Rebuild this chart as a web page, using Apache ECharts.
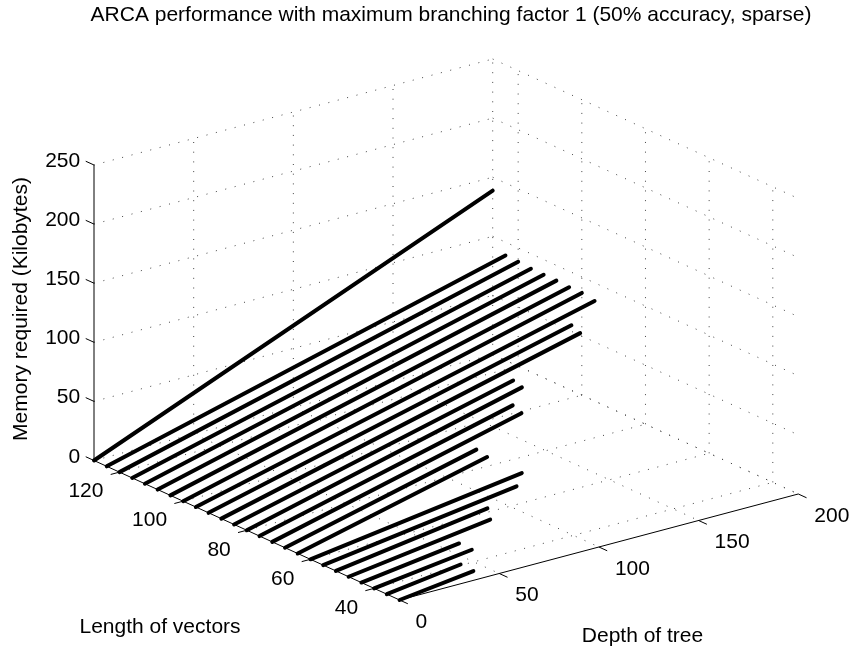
<!DOCTYPE html>
<html>
<head>
<meta charset="utf-8">
<script src="https://cdn.jsdelivr.net/npm/echarts@6/dist/echarts.min.js"></script>
<style>html,body{margin:0;padding:0;background:#fff}#chart{width:852px;height:649px}</style>
</head>
<body>
<div id="chart"></div>
<script>
// ---- data ----
const titleText = 'ARCA performance with maximum branching factor 1 (50% accuracy, sparse)';
const xName = 'Length of vectors';
const yName = 'Depth of tree';
const zName = 'Memory required (Kilobytes)';
const vectorLengths = [128,124,120,116,112,108,104,100,96,92,88,84,80,76,72,68,64,60,56,52,48,44,40,36,32];
const maxDepth      = [200,200,200,200,200,200,200,200,200,182,180,140,138,127,125,96,95,106,97,76,71,49,49,37,37];
const maxMemory     = [138.6,88.7,88.3,87.3,87.1,87.1,86.4,86.5,84.6,77,76.2,59,59,53.6,52.8,39.9,39,25.4,23.2,18.8,16.5,11.1,10.7,8.5,7.9];
const lengthTicks = [40,60,80,100,120];
const depthTicks  = [0,50,100,150,200];
const memoryTicks = [0,50,100,150,200,250];
const lengthRange = [32,128];
const depthRange  = [0,200];
const memoryRange = [0,250];

// ---- view / projection (orthographic, MATLAB-like view) ----
const FONT = '21px "Liberation Sans", Arial, sans-serif';
const origin = [94, 460.5];                 // screen of (Lmax, Dmin, Zmin)
const stepL = [3.183, 1.453];               // per unit decrease of length
const stepD = [1.9935, -0.53];              // per unit depth
const stepZ = [0, -1.182];                  // per unit memory
function proj(L, D, Z) {
  const dl = lengthRange[1] - L;
  return [origin[0] + dl*stepL[0] + D*stepD[0] + Z*stepZ[0],
          origin[1] + dl*stepL[1] + D*stepD[1] + Z*stepZ[1]];
}
const [Lmin, Lmax] = lengthRange, [Dmin, Dmax] = depthRange, [Zmin, Zmax] = memoryRange;

// grid segments (dotted)
const gridSegs = [];
lengthTicks.forEach(L => {
  gridSegs.push([proj(L,Dmin,Zmin), proj(L,Dmax,Zmin)]);
  gridSegs.push([proj(L,Dmax,Zmin), proj(L,Dmax,Zmax)]);
});
depthTicks.forEach(D => {
  if (D !== Dmin) gridSegs.push([proj(Lmax,D,Zmin), proj(Lmin,D,Zmin)]);
  if (D !== Dmin) gridSegs.push([proj(Lmax,D,Zmin), proj(Lmax,D,Zmax)]);
});
memoryTicks.forEach(Z => {
  gridSegs.push([proj(Lmax,Dmin,Z), proj(Lmax,Dmax,Z)]);
  gridSegs.push([proj(Lmax,Dmax,Z), proj(Lmin,Dmax,Z)]);
});

// axis segments (solid)
const axisSegs = [
  [proj(Lmax,Dmin,Zmin), proj(Lmax,Dmin,Zmax)],
  [proj(Lmax,Dmin,Zmin), proj(Lmin,Dmin,Zmin)],
  [proj(Lmin,Dmin,Zmin), proj(Lmin,Dmax,Zmin)]
];
const tickL = 2.6, tickD = 4.4;
memoryTicks.forEach(Z => axisSegs.push([proj(Lmax,Dmin,Z), proj(Lmax+tickL,Dmin,Z)]));
lengthTicks.forEach(L => axisSegs.push([proj(L,Dmin,Zmin), proj(L,Dmin-tickD,Zmin)]));
depthTicks.forEach(D => axisSegs.push([proj(Lmin,D,Zmin), proj(Lmin-tickL,D,Zmin)]));

// labels
const labels = [];
memoryTicks.forEach(Z => { const p = proj(Lmax+tickL,Dmin,Z); labels.push({x:p[0]-5.5, y:p[1], t:String(Z), a:'right'}); });
lengthTicks.forEach(L => { const p = proj(L,Dmin,Zmin); labels.push({x:p[0]-16, y:p[1]+19.5, t:String(L), a:'right'}); });
depthTicks.forEach(D => { const p = proj(Lmin,D,Zmin); labels.push({x:p[0]+16, y:p[1]+22, t:String(D), a:'left'}); });
labels.push({x:160, y:627, t:xName, a:'center'});
labels.push({x:642.5, y:636, t:yName, a:'center'});
labels.push({x:21, y:309, t:zName, a:'center', r:Math.PI/2});

const segData = s => s.map(g => [g[0][0], g[0][1], g[1][0], g[1][1]]);

const series = [];
series.push({
  type:'custom', coordinateSystem:'cartesian2d', silent:true, z:1,
  encode:{x:[0,2], y:[1,3]},
  data: segData(gridSegs),
  renderItem:(params, api) => {
    const a = api.coord([api.value(0), api.value(1)]), b = api.coord([api.value(2), api.value(3)]);
    return {type:'line', shape:{x1:a[0],y1:a[1],x2:b[0],y2:b[1]},
      style:{stroke:'#444', lineWidth:1, lineDash:[1,8.7]}};
  }
});
series.push({
  type:'custom', coordinateSystem:'cartesian2d', silent:true, z:2,
  encode:{x:[0,2], y:[1,3]},
  data: segData(axisSegs),
  renderItem:(params, api) => {
    const a = api.coord([api.value(0), api.value(1)]), b = api.coord([api.value(2), api.value(3)]);
    return {type:'line', shape:{x1:a[0],y1:a[1],x2:b[0],y2:b[1]},
      style:{stroke:'#000', lineWidth:1}};
  }
});
vectorLengths.forEach((L, i) => {
  series.push({
    type:'line', z:3, silent:true, symbol:'none', animation:false,
    lineStyle:{color:'#000', width:4, cap:'round'},
    data:[proj(L, 0, 0), proj(L, maxDepth[i], maxMemory[i])]
  });
});
series.push({
  type:'custom', coordinateSystem:'cartesian2d', silent:true, z:4,
  encode:{x:0, y:1},
  data: labels.map(l => [l.x, l.y]),
  renderItem:(params, api) => {
    const l = labels[params.dataIndex];
    const p = api.coord([api.value(0), api.value(1)]);
    return {type:'text', x:p[0], y:p[1], rotation:l.r || 0,
      style:{text:l.t, font:FONT, fill:'#000', align:l.a, verticalAlign:'middle'}};
  }
});

const chart = echarts.init(document.getElementById('chart'), null, {renderer:'canvas'});
chart.setOption({
  animation:false,
  backgroundColor:'#fff',
  title:{text:titleText, left:446, top:0, textAlign:'center',
    textStyle:{fontFamily:'"Liberation Sans", Arial, sans-serif', fontSize:21, fontWeight:'normal', color:'#000'}},
  grid:{left:0, top:0, width:852, height:649},
  xAxis:{type:'value', min:0, max:852, show:false},
  yAxis:{type:'value', min:0, max:649, inverse:true, show:false},
  series
});
</script>
</body>
</html>
